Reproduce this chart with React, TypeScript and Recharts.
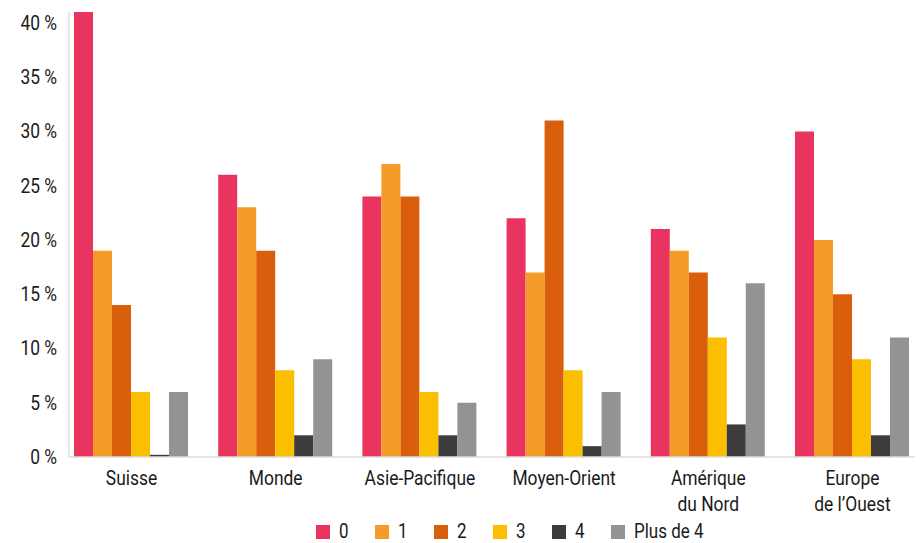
import React from "react";
import { BarChart, Bar, XAxis, YAxis } from "recharts";

const categories = ["Suisse", "Monde", "Asie-Pacifique", "Moyen-Orient", "Amérique\ndu Nord", "Europe\nde l’Ouest"];
const seriesNames = ["0", "1", "2", "3", "4", "Plus de 4"];
const s0 = [41, 26, 24, 22, 21, 30];
const s1 = [19, 23, 27, 17, 19, 20];
const s2 = [14, 19, 24, 31, 17, 15];
const s3 = [6, 8, 6, 8, 11, 9];
const s4 = [0.2, 2, 2, 1, 3, 2];
const s5 = [6, 9, 5, 6, 16, 11];
const yTicks = [0, 5, 10, 15, 20, 25, 30, 35, 40];
const colors = ["#e8345e", "#f49b29", "#d95f0c", "#fbbe00", "#3c3c3c", "#939393"];

const allSeries = [s0, s1, s2, s3, s4, s5];
const data = categories.map((c, i) => {
  const row: any = { name: c };
  allSeries.forEach((s, k) => (row["k" + k] = s[i]));
  return row;
});

const FONT = "Roboto, sans-serif";
const SX = 0.87;
const TXT = "#1a1a1a";

const XTick = (props: any) => {
  const { x, y, payload } = props;
  const lines = String(payload.value).split("\n");
  return (
    <g transform={`translate(${x},${y}) scale(${SX},1)`}>
      <text x={0} y={0} textAnchor="middle" fill={TXT} fontSize={20} fontFamily={FONT}>
        {lines.map((l, i) => (
          <tspan key={i} x={0} dy={i === 0 ? 20 : 26}>{l}</tspan>
        ))}
      </text>
    </g>
  );
};

const YTick = (props: any) => {
  const { x, y, payload } = props;
  return (
    <g transform={`translate(${x},${y}) scale(${SX},1)`}>
      <text x={0} y={0} dy={7} textAnchor="end" fill={TXT} fontSize={20} fontFamily={FONT}>
        {payload.value + " %"}
      </text>
    </g>
  );
};

const LegendBox = () => (
  <div style={{ position: "absolute", left: 308, top: 513, height: 22, display: "flex", alignItems: "center", fontFamily: FONT, fontSize: 19.5, color: TXT }}>
    {seriesNames.map((n, i) => (
      <div key={n} style={{ display: "flex", alignItems: "center", height: 22, width: i === seriesNames.length - 1 ? 120 : 59 }}>
        <span style={{ display: "inline-block", width: 14, height: 14, background: colors[i], marginRight: 9 }} />
        <span style={{ lineHeight: "22px", height: 22, display: "inline-block", transform: `scaleX(${SX})`, transformOrigin: "left center", whiteSpace: "nowrap" }}>{n}</span>
      </div>
    ))}
  </div>
);

export default function App() {
  return (
    <div style={{ position: "relative", width: 915, height: 535 }}>
      <BarChart
        width={915}
        height={535}
        data={data}
        margin={{ top: 4, right: 0, bottom: 0, left: 0 }}
        barCategoryGap={14.6}
        barGap={0}
      >
        <XAxis
          dataKey="name"
          interval={0}
          tick={<XTick />}
          tickLine={false}
          axisLine={{ stroke: "#dcdcdc", strokeWidth: 1.5 }}
          padding={{ left: -9.6, right: -1.6 }}
          height={86}
        />
        <YAxis
          width={61}
          domain={[0, 41]}
          ticks={yTicks}
          tickLine={false}
          tickSize={0}
          tickMargin={12}
          axisLine={{ stroke: "#dcdcdc", strokeWidth: 1.5 }}
          tick={<YTick />}
          allowDataOverflow
        />
        {seriesNames.map((n, i) => (
          <Bar key={n} dataKey={"k" + i} name={n} fill={colors[i]} isAnimationActive={false} />
        ))}
      </BarChart>
      <LegendBox />
    </div>
  );
}
